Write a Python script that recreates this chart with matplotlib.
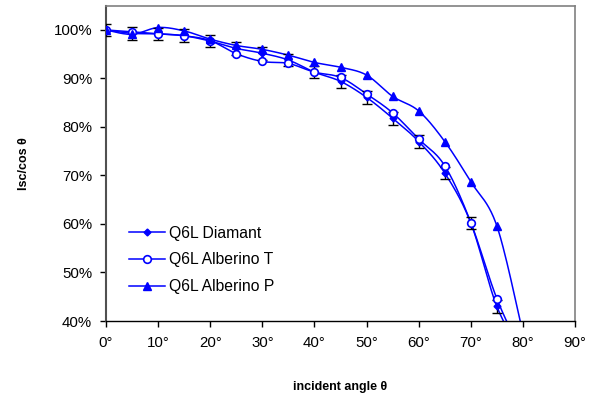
import numpy as np
import matplotlib
matplotlib.use("Agg")
import matplotlib.pyplot as plt
from matplotlib.ticker import FuncFormatter

plt.rcParams['font.family'] = ['Liberation Sans', 'DejaVu Sans']

# angles (deg) and Isc/cos(theta) values
angle = [0, 5, 10, 15, 20, 25, 30, 35, 40, 45, 50, 55, 60, 65, 70, 75, 80]
diamant = [1.000, 0.993, 0.992, 0.988, 0.977, 0.962, 0.952, 0.938, 0.913, 0.894, 0.861, 0.818, 0.770, 0.705, 0.602, 0.430, 0.330]
diamant_err = 0.013
alberino_t = [1.000, 0.996, 0.992, 0.988, 0.978, 0.951, 0.935, 0.931, 0.913, 0.902, 0.868, 0.829, 0.775, 0.720, 0.603, 0.446, 0.330]
alberino_p = [1.000, 0.991, 1.005, 0.998, 0.981, 0.968, 0.960, 0.948, 0.933, 0.923, 0.907, 0.863, 0.833, 0.770, 0.687, 0.596, 0.375]

x_ticks = [0, 10, 20, 30, 40, 50, 60, 70, 80, 90]
y_ticks = [0.4, 0.5, 0.6, 0.7, 0.8, 0.9, 1.0]


def smooth(x, y, n=24):
    # Excel style smoothed line (Bezier with 1/6 handles)
    x = np.asarray(x, float)
    y = np.asarray(y, float)
    px = np.concatenate([[x[0]], x, [x[-1]]])
    py = np.concatenate([[y[0]], y, [y[-1]]])
    xs, ys = [], []
    t = np.linspace(0, 1, n)
    for i in range(1, len(px) - 2):
        p0 = np.array([px[i], py[i]])
        p3 = np.array([px[i + 1], py[i + 1]])
        p1 = p0 + (np.array([px[i + 1], py[i + 1]]) - np.array([px[i - 1], py[i - 1]])) / 6
        p2 = p3 - (np.array([px[i + 2], py[i + 2]]) - np.array([px[i], py[i]])) / 6
        b = ((1 - t) ** 3)[:, None] * p0 + (3 * (1 - t) ** 2 * t)[:, None] * p1 \
            + (3 * (1 - t) * t ** 2)[:, None] * p2 + (t ** 3)[:, None] * p3
        xs.extend(b[:, 0])
        ys.extend(b[:, 1])
    return xs, ys


fig = plt.figure(figsize=(6.0, 4.01), dpi=100)
ax = fig.add_axes([0.1767, 0.1995, 0.7817, 0.7863])

blue = '#0000FF'

sx, sy = smooth(angle, diamant)
ax.plot(sx, sy, color=blue, lw=1.1, zorder=2)
ax.errorbar(angle, diamant, yerr=diamant_err, fmt='none', ecolor='black',
            elinewidth=1.0, capsize=3.5, capthick=1.0, zorder=3)
ax.plot(angle, diamant, ls='none', marker='D', ms=3.5, color=blue, zorder=4)

sx, sy = smooth(angle, alberino_t)
ax.plot(sx, sy, color=blue, lw=1.1, zorder=2)
ax.plot(angle, alberino_t, ls='none', marker='o', ms=5.5, mfc='white',
        mec=blue, mew=1.2, zorder=5)

sx, sy = smooth(angle, alberino_p)
ax.plot(sx, sy, color=blue, lw=1.1, zorder=2)
ax.plot(angle, alberino_p, ls='none', marker='^', ms=5.2, color=blue, zorder=6)

# legend handles
h1, = ax.plot([], [], color=blue, lw=1.1, marker='D', ms=3.5)
h2, = ax.plot([], [], color=blue, lw=1.1, marker='o', ms=5.5, mfc='white', mec=blue, mew=1.2)
h3, = ax.plot([], [], color=blue, lw=1.1, marker='^', ms=5.2)
ax.legend([h1, h2, h3], ['Q6L Diamant', 'Q6L Alberino T', 'Q6L Alberino P'],
          loc='center left', bbox_to_anchor=(0.049, 0.1935), frameon=False,
          fontsize=11.3, handlelength=2.3, handletextpad=0.28,
          labelspacing=0.75, borderpad=0, borderaxespad=0, numpoints=1)

ax.set_xlim(0, 90)
ax.set_ylim(0.4, 1.05)
ax.set_xticks(x_ticks)
ax.set_yticks(y_ticks)
ax.xaxis.set_major_formatter(FuncFormatter(lambda v, p: f'{v:.0f}°'))
ax.yaxis.set_major_formatter(FuncFormatter(lambda v, p: f'{v * 100:.0f}%'))
ax.tick_params(axis='both', direction='out', length=4, width=1,
               labelsize=10.8, colors='black')
ax.tick_params(axis='x', pad=7)
ax.tick_params(axis='y', pad=6)

for s in ['top', 'right']:
    ax.spines[s].set_color('#808080')
    ax.spines[s].set_linewidth(1.2)
ax.spines['left'].set_color('#505050')
ax.spines['left'].set_linewidth(1.5)
ax.spines['bottom'].set_color('black')
ax.spines['bottom'].set_linewidth(1.0)

ax.set_xlabel('incident angle θ', fontsize=9, fontweight='bold', labelpad=22)
ax.set_ylabel('Isc/cos θ', fontsize=9, fontweight='bold', labelpad=17)

fig.savefig('out.png', dpi=100)
